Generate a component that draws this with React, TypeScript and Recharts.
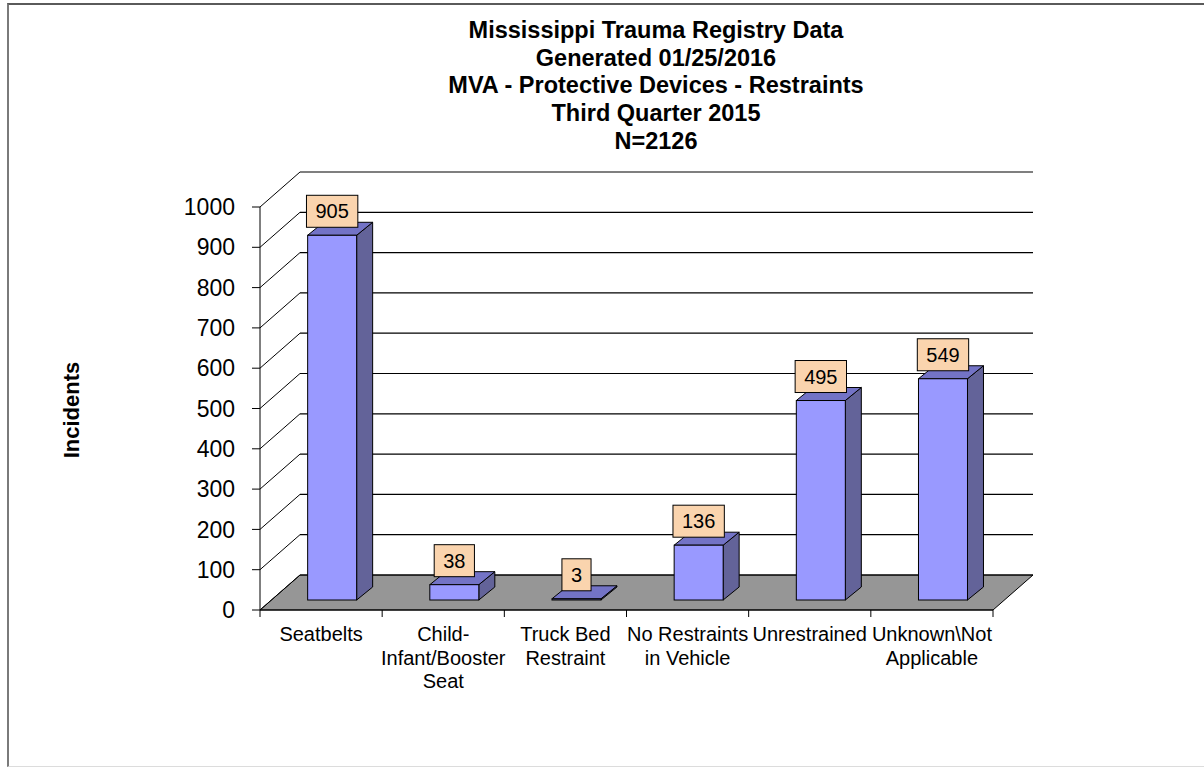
import React from 'react';
import { BarChart, Bar, XAxis, YAxis, CartesianGrid, LabelList } from 'recharts';

const categories = [
  'Seatbelts',
  'Child-\nInfant/Booster\nSeat',
  'Truck Bed\nRestraint',
  'No Restraints\nin Vehicle',
  'Unrestrained',
  'Unknown\\Not\nApplicable',
];
const incidents = [905, 38, 3, 136, 495, 549];
const yTicks = [0, 100, 200, 300, 400, 500, 600, 700, 800, 900, 1000];
const titleLines = [
  'Mississippi Trauma Registry Data',
  'Generated 01/25/2016',
  'MVA - Protective Devices - Restraints',
  'Third Quarter 2015',
  'N=2126',
];
const yLabel = 'Incidents';

const data = categories.map((c, i) => ({ name: c, value: incidents[i] }));

const FONT = '"Liberation Sans", Arial, Helvetica, sans-serif';
// 3D geometry (pixels)
const WALL_DX = 40;
const WALL_DY = 35;
const BAR_SHIFT_X = 11;
const BAR_SHIFT_Y = 10;
const BAR_DX = 16;
const BAR_DY = 13;

const FRONT = '#9999FF';
const SIDE = '#636399';
const TOP = '#7373C6';
const FLOOR = '#969696';
const LABEL_BG = '#FAD4AE';

const GridLine = (p: any) => {
  const { x1, y1, x2 } = p;
  const isBottom =
    typeof p.y === 'number' && typeof p.height === 'number'
      ? Math.abs(y1 - (p.y + p.height)) < 1
      : p.index === 0;
  return (
    <g key={p.key}>
      {isBottom && (
        <polygon
          points={`${x1},${y1} ${x1 + WALL_DX},${y1 - WALL_DY} ${x2 + WALL_DX},${y1 - WALL_DY} ${x2},${y1}`}
          fill={FLOOR}
          stroke="#000"
          strokeWidth={1}
        />
      )}
      <line x1={x1} y1={y1} x2={x1 + WALL_DX} y2={y1 - WALL_DY} stroke="#000" strokeWidth={1} />
      <line
        x1={x1 + WALL_DX}
        y1={y1 - WALL_DY}
        x2={x2 + WALL_DX}
        y2={y1 - WALL_DY}
        stroke="#000"
        strokeWidth={1.2}
      />
    </g>
  );
};

const Bar3D = (p: any) => {
  const { x, y, width, height } = p;
  if (x == null || y == null) return null;
  const fx = x + BAR_SHIFT_X;
  const fy = y - BAR_SHIFT_Y;
  const h = Math.max(height, 0);
  const fb = fy + h;
  const rx = fx + width;
  return (
    <g>
      <polygon
        points={`${rx},${fy} ${rx + BAR_DX},${fy - BAR_DY} ${rx + BAR_DX},${fb - BAR_DY} ${rx},${fb}`}
        fill={SIDE}
        stroke="#000"
        strokeWidth={1}
        strokeLinejoin="round"
      />
      <polygon
        points={`${fx},${fy} ${fx + BAR_DX},${fy - BAR_DY} ${rx + BAR_DX},${fy - BAR_DY} ${rx},${fy}`}
        fill={TOP}
        stroke="#000"
        strokeWidth={1}
        strokeLinejoin="round"
      />
      <rect x={fx} y={fy} width={width} height={h} fill={FRONT} stroke="#000" strokeWidth={1} />
    </g>
  );
};

const ValueLabel = (p: any) => {
  const { x, y, width, value } = p;
  if (x == null || y == null) return null;
  const s = String(value);
  const fontSize = 20;
  const w = s.length * fontSize * 0.556 + 18;
  const h = 32;
  const cx = x + BAR_SHIFT_X + width / 2;
  const cy = y - BAR_SHIFT_Y - 24;
  return (
    <g>
      <rect x={cx - w / 2} y={cy - h / 2} width={w} height={h} fill={LABEL_BG} stroke="#000" strokeWidth={1} />
      <text
        x={cx}
        y={cy}
        textAnchor="middle"
        dominantBaseline="central"
        fontFamily={FONT}
        fontSize={fontSize}
        fill="#000"
      >
        {s}
      </text>
    </g>
  );
};

const CategoryTick = (p: any) => {
  const { x, y, payload, index } = p;
  const lines = String(payload.value).split('\n');
  const half = typeof payload.offset === 'number' && payload.offset > 0 ? payload.offset : 733 / categories.length / 2;
  return (
    <g>
      <line x1={x - half} y1={y} x2={x - half} y2={y + 7} stroke="#000" strokeWidth={1} />
      {index === categories.length - 1 && (
        <line x1={x + half} y1={y} x2={x + half} y2={y + 7} stroke="#000" strokeWidth={1} />
      )}
      {lines.map((l, i) => (
        <text
          key={i}
          x={x}
          y={y + 31 + i * 23.5}
          textAnchor="middle"
          fontFamily={FONT}
          fontSize={20}
          fill="#000"
        >
          {l}
        </text>
      ))}
    </g>
  );
};

export default function App() {
  return (
    <div style={{ position: 'absolute', left: 0, top: 0, width: 1204, height: 770, background: '#fff', overflow: 'hidden' }}>
      <div
        style={{
          position: 'absolute',
          left: 7,
          top: 3,
          width: 1210,
          height: 764,
          borderLeft: '2px solid #7a7a7a',
          borderTop: '2px solid #5a5a5a',
          borderBottom: '1px solid #dcdcdc',
          boxSizing: 'border-box',
        }}
      />
      <div
        style={{
          position: 'absolute',
          left: 356,
          top: 17,
          width: 600,
          textAlign: 'center',
          fontFamily: FONT,
          fontWeight: 'bold',
          fontSize: 23.5,
          lineHeight: '27.7px',
          color: '#000',
        }}
      >
        {titleLines.map((t, i) => (
          <div key={i}>{t}</div>
        ))}
      </div>
      <div
        style={{
          position: 'absolute',
          left: 72 - 100,
          top: 410 - 15,
          width: 200,
          height: 30,
          lineHeight: '30px',
          textAlign: 'center',
          transform: 'rotate(-90deg)',
          fontFamily: FONT,
          fontWeight: 'bold',
          fontSize: 22,
          color: '#000',
        }}
      >
        {yLabel}
      </div>
      <div style={{ position: 'absolute', left: 0, top: 0 }}>
        <BarChart
          width={1204}
          height={770}
          data={data}
          margin={{ top: 207, right: 211, bottom: 100, left: 180 }}
          barCategoryGap="30%"
        >
          <CartesianGrid vertical={false} horizontal={GridLine} />
          <XAxis
            dataKey="name"
            height={60}
            interval={0}
            axisLine={{ stroke: '#000', strokeWidth: 1 }}
            tickLine={false}
            tickSize={0}
            tickMargin={0}
            tick={<CategoryTick />}
          />
          <YAxis
            width={80}
            domain={[0, 1000]}
            ticks={yTicks}
            interval={0}
            allowDataOverflow
            axisLine={{ stroke: '#000', strokeWidth: 1 }}
            tickLine={{ stroke: '#000', strokeWidth: 1 }}
            tickSize={8}
            tickMargin={17}
            tick={{ fill: '#000', fontSize: 23, fontFamily: FONT }}
          />
          <Bar dataKey="value" isAnimationActive={false} shape={<Bar3D />}>
            <LabelList dataKey="value" content={<ValueLabel />} />
          </Bar>
        </BarChart>
      </div>
    </div>
  );
}
